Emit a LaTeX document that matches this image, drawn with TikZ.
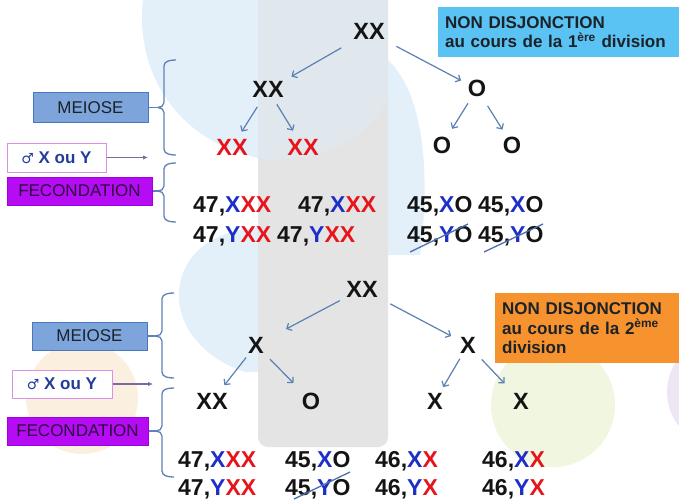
\documentclass[tikz,border=0pt]{standalone}
\usepackage{fontspec}
\setmainfont{Liberation Sans}
\newfontfamily\symfont{DejaVu Sans}
\usetikzlibrary{arrows.meta,calc}
\definecolor{rd}{HTML}{E8141B}
\definecolor{bl}{HTML}{1E2FC8}
\definecolor{arrc}{HTML}{5B80B4}
\definecolor{brcol}{HTML}{5E82B5}
\definecolor{strk}{HTML}{4D6FB0}
\definecolor{bandgray}{HTML}{E4E4E4}
\definecolor{ltblue}{HTML}{DCEDF9}
\definecolor{tan}{HTML}{FBF0E0}
\definecolor{ltgreen}{HTML}{F0F6DF}
\definecolor{ltpurple}{HTML}{EEE6F4}
\definecolor{meiofill}{HTML}{7DA5DC}
\definecolor{meiodraw}{HTML}{4A78C0}
\definecolor{malebd}{HTML}{DC8FE6}
\definecolor{maletxt}{HTML}{233C9A}
\definecolor{malearr}{HTML}{7C6A9C}
\definecolor{fecfill}{HTML}{B60CF4}
\definecolor{fecdraw}{HTML}{A000E0}
\definecolor{fectxt}{HTML}{2B0A3D}
\definecolor{ndblue}{HTML}{5BC2F4}
\definecolor{ndorange}{HTML}{F7932F}
\definecolor{boxtxt}{HTML}{1B2228}
\begin{document}
\begin{tikzpicture}[x=1pt,y=-1pt,
  chr/.style={font=\fontsize{23.5}{26}\selectfont\bfseries, anchor=base, inner sep=0pt, text=black!92},
  kar/.style={font=\fontsize{23}{26}\selectfont\bfseries, anchor=base west, inner sep=0pt, text=black!92},
  arw/.style={draw=arrc, line width=1.2pt, -{Straight Barb[length=4pt,width=8pt]}},
  lbox/.style={minimum height=28pt, inner sep=0pt, font=\fontsize{17}{19}\selectfont, line width=1pt},
  brc/.style={draw=brcol, line width=1.3pt},
  marw/.style={draw=malearr, line width=1.2pt, -{Latex[length=5pt,width=4.5pt]}},
  strike/.style={draw=strk, line width=1.3pt},
  ndbox/.style={anchor=north west, inner xsep=7pt, inner ysep=0pt, align=left, text=boxtxt,
    font=\fontsize{17}{19.5}\selectfont\bfseries}
]
\useasboundingbox (0,0) rectangle (679,500);
% ---------- background decorations
\fill[white] (0,0) rectangle (679,500);
\fill[tan] (82,398) circle (56);
\fill[ltgreen] (553,405) circle (62);
\fill[ltpurple] (722,392) circle (55);
\fill[bandgray, rounded corners=10pt] (258,-20) rectangle (388,447);
\fill[ltblue, opacity=0.8] (143,0) .. controls (135,70) and (175,140) .. (258,158) -- (258,0) -- cycle;
\fill[ltblue, opacity=0.45] (258,0) -- (258,158) .. controls (300,165) and (360,150) .. (388,100) -- (388,0) -- cycle;
\fill[ltblue, opacity=0.8] (388,60) .. controls (420,90) and (432,160) .. (420,255) -- (388,255) -- cycle;
\fill[ltblue, opacity=0.8] (258,228) .. controls (160,232) and (150,340) .. (245,372) -- (258,372) -- cycle;
% ---------- title boxes
\node[ndbox, fill=ndblue, minimum width=241pt, minimum height=50pt, text width=227pt] (nd1) at (438,7)
  {NON DISJONCTION\\au cours de la 1\textsuperscript{ère} division};
\node[ndbox, fill=ndorange, minimum width=184pt, minimum height=70pt, text width=170pt] (nd2) at (495,293)
  {NON DISJONCTION\\au cours de la 2\textsuperscript{ème}\\division};
% ---------- top tree
\node[chr] (t1) at (369,40) {XX};
\node[chr] (a1) at (268,98) {XX};
\node[chr] (b1) at (477,97) {O};
\node[chr, text=rd] (c1) at (232,155) {XX};
\node[chr, text=rd] (d1) at (303,155) {XX};
\node[chr] (e1) at (442,153) {O};
\node[chr] (f1) at (512,153) {O};
\draw[arw, shorten <=32pt, shorten >=27pt] (t1.center) -- (a1.center);
\draw[arw, shorten <=31pt, shorten >=18pt] (t1.center) -- (b1.center);
\draw[arw, shorten <=20pt, shorten >=18pt] (a1.center) -- (c1.center);
\draw[arw, shorten <=17pt, shorten >=19pt] (a1.center) -- (d1.center);
\draw[arw, shorten <=17pt, shorten >=19pt] (b1.center) -- (e1.center);
\draw[arw, shorten <=20pt, shorten >=18pt] (b1.center) -- (f1.center);
% top karyotypes
\node[kar] (k11) at (193,212) {47,\textcolor{bl}{X}\textcolor{rd}{XX}};
\node[kar] (k12) at (298,212) {47,\textcolor{bl}{X}\textcolor{rd}{XX}};
\node[kar] (k13) at (407,212) {45,\textcolor{bl}{X}O};
\node[kar] (k14) at (478,212) {45,\textcolor{bl}{X}O};
\node[kar] (k21) at (193,242) {47,\textcolor{bl}{Y}\textcolor{rd}{XX}};
\node[kar] (k22) at (277,242) {47,\textcolor{bl}{Y}\textcolor{rd}{XX}};
\node[kar] (k23) at (407,242) {45,\textcolor{bl}{Y}O};
\node[kar] (k24) at (478,242) {45,\textcolor{bl}{Y}O};
\coordinate (s1a) at (410,252); \coordinate (s1b) at (468,224);
\coordinate (s2a) at (484,252); \coordinate (s2b) at (543,224);
\draw[strike] (s1a) -- (s1b);
\draw[strike] (s2a) -- (s2b);
% ---------- bottom tree
\node[chr] (t2) at (362,297) {XX};
\node[chr] (a2) at (256,353) {X};
\node[chr] (b2) at (468,353) {X};
\node[chr] (c2) at (212,409) {XX};
\node[chr] (d2) at (311,409) {O};
\node[chr] (e2) at (435,409) {X};
\node[chr] (f2) at (521,409) {X};
\draw[arw, shorten <=25pt, shorten >=34pt] (t2.center) -- (a2.center);
\draw[arw, shorten <=32pt, shorten >=19pt] (t2.center) -- (b2.center);
\draw[arw, shorten <=16pt, shorten >=20pt] (a2.center) -- (c2.center);
\draw[arw, shorten <=20pt, shorten >=25pt] (a2.center) -- (d2.center);
\draw[arw, shorten <=16pt, shorten >=16pt] (b2.center) -- (e2.center);
\draw[arw, shorten <=20pt, shorten >=24pt] (b2.center) -- (f2.center);
% bottom karyotypes
\node[kar] (m11) at (178,467) {47,\textcolor{bl}{X}\textcolor{rd}{XX}};
\node[kar] (m12) at (285,467) {45,\textcolor{bl}{X}O};
\node[kar] (m13) at (375,467) {46,\textcolor{bl}{X}\textcolor{rd}{X}};
\node[kar] (m14) at (482,467) {46,\textcolor{bl}{X}\textcolor{rd}{X}};
\node[kar] (m21) at (178,495) {47,\textcolor{bl}{Y}\textcolor{rd}{XX}};
\node[kar] (m22) at (285,495) {45,\textcolor{bl}{Y}O};
\node[kar] (m23) at (375,495) {46,\textcolor{bl}{Y}\textcolor{rd}{X}};
\node[kar] (m24) at (482,495) {46,\textcolor{bl}{Y}\textcolor{rd}{X}};
\coordinate (s3a) at (294,499); \coordinate (s3b) at (350,472);
\draw[strike] (s3a) -- (s3b);
% ---------- left labels, top
\node[lbox, draw=meiodraw, fill=meiofill, minimum width=115pt, minimum height=29pt, text=boxtxt] (meio1) at (90.5,107.5) {MEIOSE};
\node[lbox, draw=malebd, fill=white, minimum width=99pt, minimum height=29pt, text=maletxt, font=\fontsize{17}{19}\selectfont\bfseries] (male1) at (56.5,157.5) {{\symfont\fontsize{14}{16}\selectfont ♂} X ou Y};
\node[lbox, draw=fecdraw, fill=fecfill, minimum width=145pt, text=fectxt] (fec1) at (79.5,191) {FECONDATION};
\coordinate (ma1) at (148,157.5);
\draw[marw] (male1.east) -- (ma1);
\coordinate (k1) at (158,107.5);
\coordinate (k2) at (158,191);
\draw[brc] (176,60) to[out=180,in=90] (164,66) -- (164,102.5) to[out=-90,in=0] (k1) to[out=0,in=90] (164,112.5) -- (164,149) to[out=-90,in=180] (176,155);
\draw[brc] (meio1.east) -- (k1);
\draw[brc] (176,163) to[out=180,in=90] (164,169) -- (164,186) to[out=-90,in=0] (k2) to[out=0,in=90] (164,196) -- (164,216) to[out=-90,in=180] (176,222);
\draw[brc] (fec1.east) -- (k2);
% ---------- left labels, bottom
\node[lbox, draw=meiodraw, fill=meiofill, minimum width=115pt, text=boxtxt] (meio2) at (89.5,336) {MEIOSE};
\node[lbox, draw=malebd, fill=white, minimum width=100pt, text=maletxt, font=\fontsize{17}{19}\selectfont\bfseries] (male2) at (62,384) {{\symfont\fontsize{14}{16}\selectfont ♂} X ou Y};
\node[lbox, draw=fecdraw, fill=fecfill, minimum width=141pt, text=fectxt] (fec2) at (77.5,431) {FECONDATION};
\coordinate (ma2) at (153,384);
\draw[marw] (male2.east) -- (ma2);
\coordinate (k3) at (156,336);
\coordinate (k4) at (156,431);
\draw[brc] (174,293) to[out=180,in=90] (162,299) -- (162,331) to[out=-90,in=0] (k3) to[out=0,in=90] (162,341) -- (162,372) to[out=-90,in=180] (174,378);
\draw[brc] (meio2.east) -- (k3);
\draw[brc] (174,388) to[out=180,in=90] (162,394) -- (162,426) to[out=-90,in=0] (k4) to[out=0,in=90] (162,436) -- (162,471) to[out=-90,in=180] (174,477);
\draw[brc] (fec2.east) -- (k4);
\end{tikzpicture}
\end{document}
